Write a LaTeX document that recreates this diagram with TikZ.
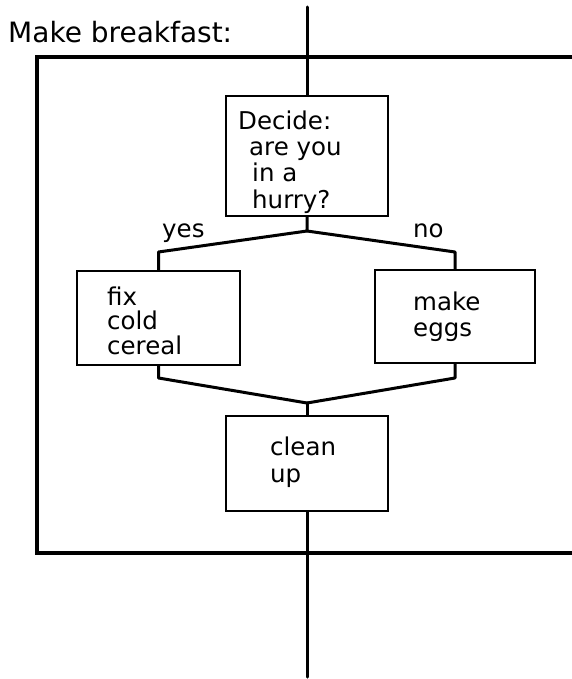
\documentclass[tikz,border=0pt]{standalone}
\usepackage{fontspec}
\setmainfont{DejaVu Sans}
\newfontfamily\hand{DejaVu Sans}
\begin{document}
\begin{tikzpicture}[x=1pt,y=-1pt,
  box/.style={draw,line width=2pt,inner sep=0pt,fill=white},
  conn/.style={line width=3pt,line join=round,line cap=round},
  frame/.style={line width=4pt,line join=miter},
  txt/.style={anchor=base west,inner sep=0pt,font=\hand\fontsize{24.5}{28}\selectfont},
  ttl/.style={anchor=base west,inner sep=0pt,font=\hand\fontsize{28}{32}\selectfont}]
\useasboundingbox (0,0) rectangle (572,679);
% swimlane frame
\draw[frame] (572,57) -- (37,57) -- (37,553) -- (572,553);
\node[ttl] (title) at (8,43) {Make breakfast:};
% boxes
\node[box,minimum width=162pt,minimum height=120pt] (decide) at (307,156) {};
\node[box,minimum width=163pt,minimum height=94pt] (cereal) at (158.5,318) {};
\node[box,minimum width=160pt,minimum height=93pt] (eggs) at (455,316.5) {};
\node[box,minimum width=162pt,minimum height=95pt] (clean) at (307,463.5) {};
% coordinates
\coordinate (top) at (307,7);
\coordinate (split) at (307,231);
\coordinate (ly) at (158.5,252);
\coordinate (ry) at (455,252);
\coordinate (lm) at (158.5,378);
\coordinate (rm) at (455,378);
\coordinate (merge) at (307,403);
\coordinate (bottom) at (307,677);
% connectors
\draw[conn] (top) -- (decide.north);
\draw[conn] (decide.south) -- (split) -- (ly) -- (cereal.north);
\draw[conn] (split) -- (ry) -- (eggs.north);
\draw[conn] (cereal.south) -- (lm) -- (merge);
\draw[conn] (eggs.south) -- (rm) -- (merge);
\draw[conn] (merge) -- (clean.north);
\draw[conn] (clean.south) -- (bottom);
% texts
\node[txt] (t1) at (238,130) {Decide:};
\node[txt] (t2) at (249,156) {are you};
\node[txt] (t3) at (252,182) {in a};
\node[txt] (t4) at (252,208) {hurry?};
\node[txt] (yes) at (162,237) {yes};
\node[txt] (no) at (413,237) {no};
\node[txt] (c1) at (107,305) {fix};
\node[txt] (c2) at (107,329) {cold};
\node[txt] (c3) at (107,354) {cereal};
\node[txt] (e1) at (413,310) {make};
\node[txt] (e2) at (413,336) {eggs};
\node[txt] (u1) at (270,455) {clean};
\node[txt] (u2) at (270,482) {up};
\end{tikzpicture}
\end{document}
